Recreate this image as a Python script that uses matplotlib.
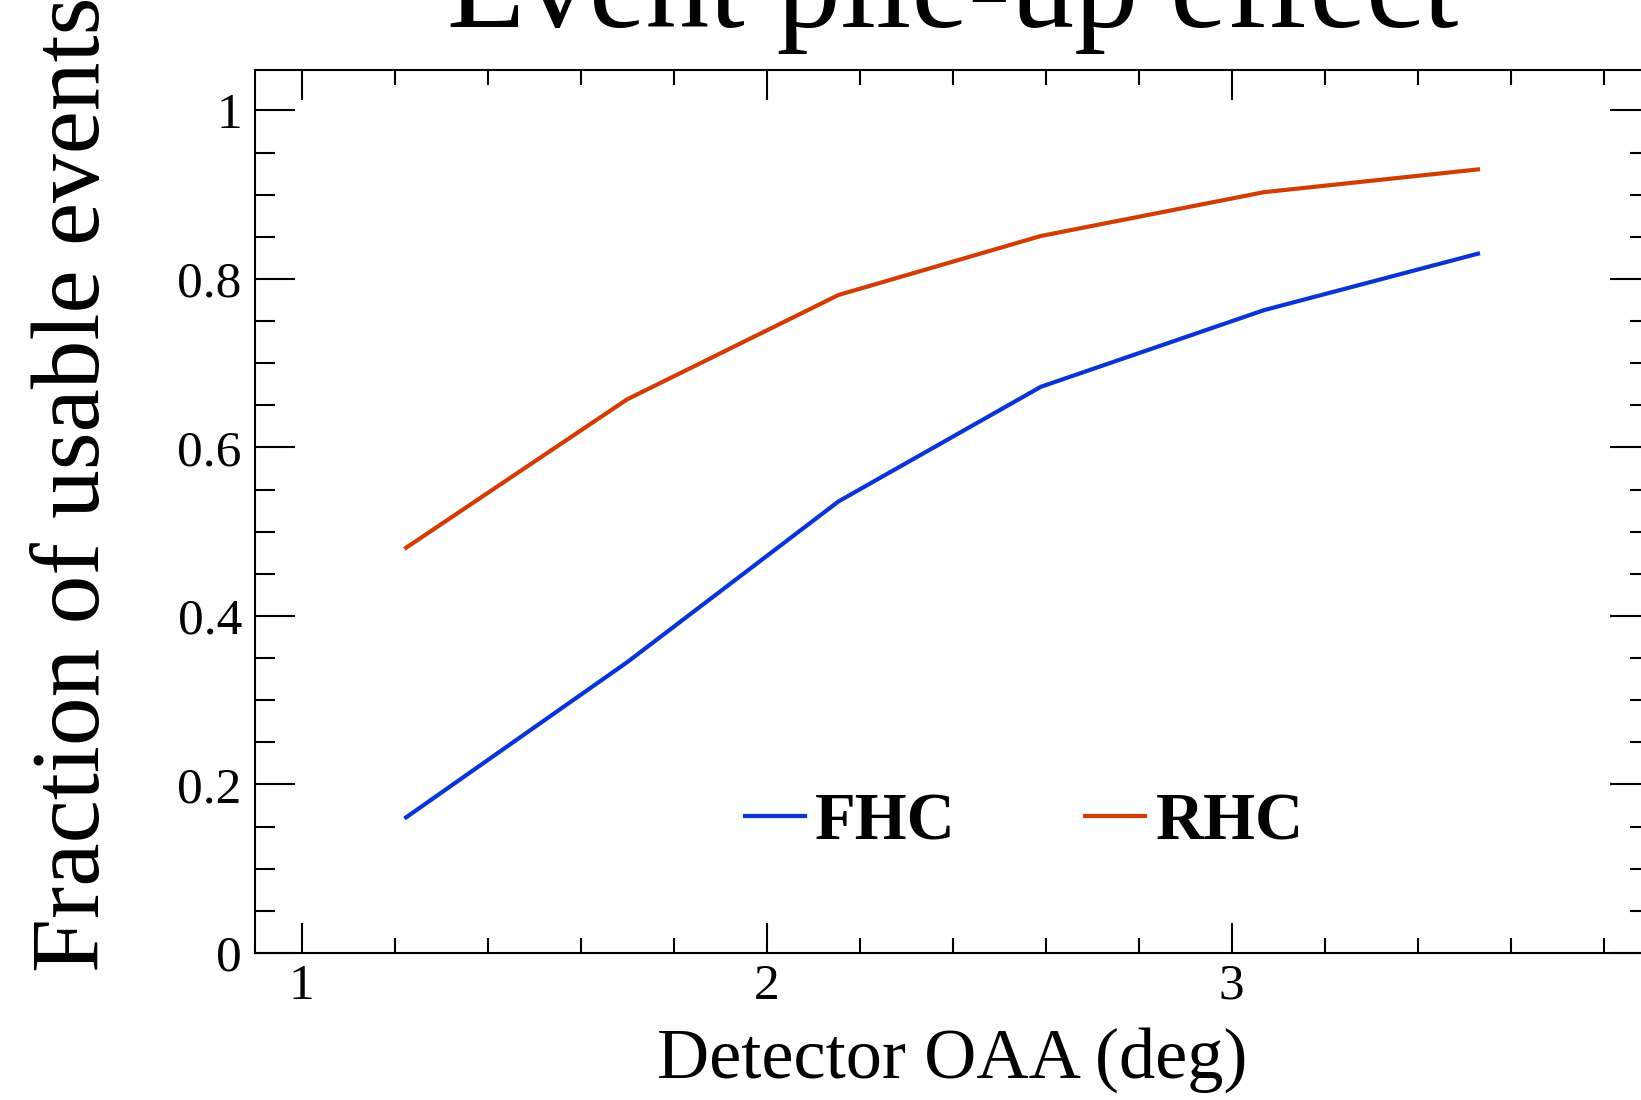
import matplotlib
matplotlib.use("Agg")
import matplotlib.pyplot as plt
from matplotlib.ticker import MultipleLocator, FuncFormatter
from matplotlib.font_manager import FontProperties

# ---- data ----
oaa_deg = [1.225, 1.70, 2.155, 2.59, 3.07, 3.53]
fhc_fraction = [0.161, 0.345, 0.536, 0.672, 0.763, 0.830]
rhc_fraction = [0.481, 0.657, 0.781, 0.851, 0.903, 0.930]
series_labels = ["FHC", "RHC"]
title_text = "Event pile-up effect"
xlabel_text = "Detector OAA (deg)"
ylabel_text = "Fraction of usable events"

FONT = "Liberation Serif"
plt.rcParams["font.family"] = [FONT, "DejaVu Serif"]

W, H = 1641, 1100
fig = plt.figure(figsize=(W / 100, H / 100), dpi=100)
left, right, top, bottom = 255, 1650, 70, 953
ax = fig.add_axes([left / W, 1 - bottom / H, (right - left) / W, (bottom - top) / H])

blue = "#0a34d4"
red = "#d23c05"
ax.plot(oaa_deg, fhc_fraction, color=blue, lw=3.0, label=series_labels[0], solid_joinstyle="round")
ax.plot(oaa_deg, rhc_fraction, color=red, lw=3.0, label=series_labels[1], solid_joinstyle="round")

ax.set_xlim(0.9, 3.9)
ax.set_ylim(0, 1.048)

ax.xaxis.set_major_locator(MultipleLocator(1))
ax.xaxis.set_minor_locator(MultipleLocator(0.2))
ax.yaxis.set_major_locator(MultipleLocator(0.2))
ax.yaxis.set_minor_locator(MultipleLocator(0.05))
fmt = FuncFormatter(lambda v, p: f"{v:g}")
ax.xaxis.set_major_formatter(fmt)
ax.yaxis.set_major_formatter(fmt)

for s in ax.spines.values():
    s.set_linewidth(1.5)

ax.tick_params(axis="both", which="both", direction="in", top=True, right=True,
               width=1.5, labelsize=37, color="black")
ax.tick_params(axis="x", which="major", length=21.6, pad=7.5)
ax.tick_params(axis="x", which="minor", length=10.8)
ax.tick_params(axis="y", which="major", length=28.8, pad=9.5)
ax.tick_params(axis="y", which="minor", length=14.4)

ax.set_title(title_text, fontsize=92, pad=31)
ax.set_xlabel(xlabel_text, fontsize=52, labelpad=12.5)
ax.set_ylabel(ylabel_text, fontsize=70, ha="left", va="baseline", rotation_mode="anchor")
ax.yaxis.set_label_coords(99 / W, 1 - 972 / H, transform=fig.transFigure)

leg = ax.legend(loc="center left", bbox_to_anchor=(0.351, 0.147), ncol=2, frameon=False,
                borderpad=0, borderaxespad=0, handlelength=0.9, handletextpad=0.15,
                columnspacing=1.95,
                prop=FontProperties(family=FONT, weight="bold", size=48))

fig.savefig("out.png", dpi=100)
